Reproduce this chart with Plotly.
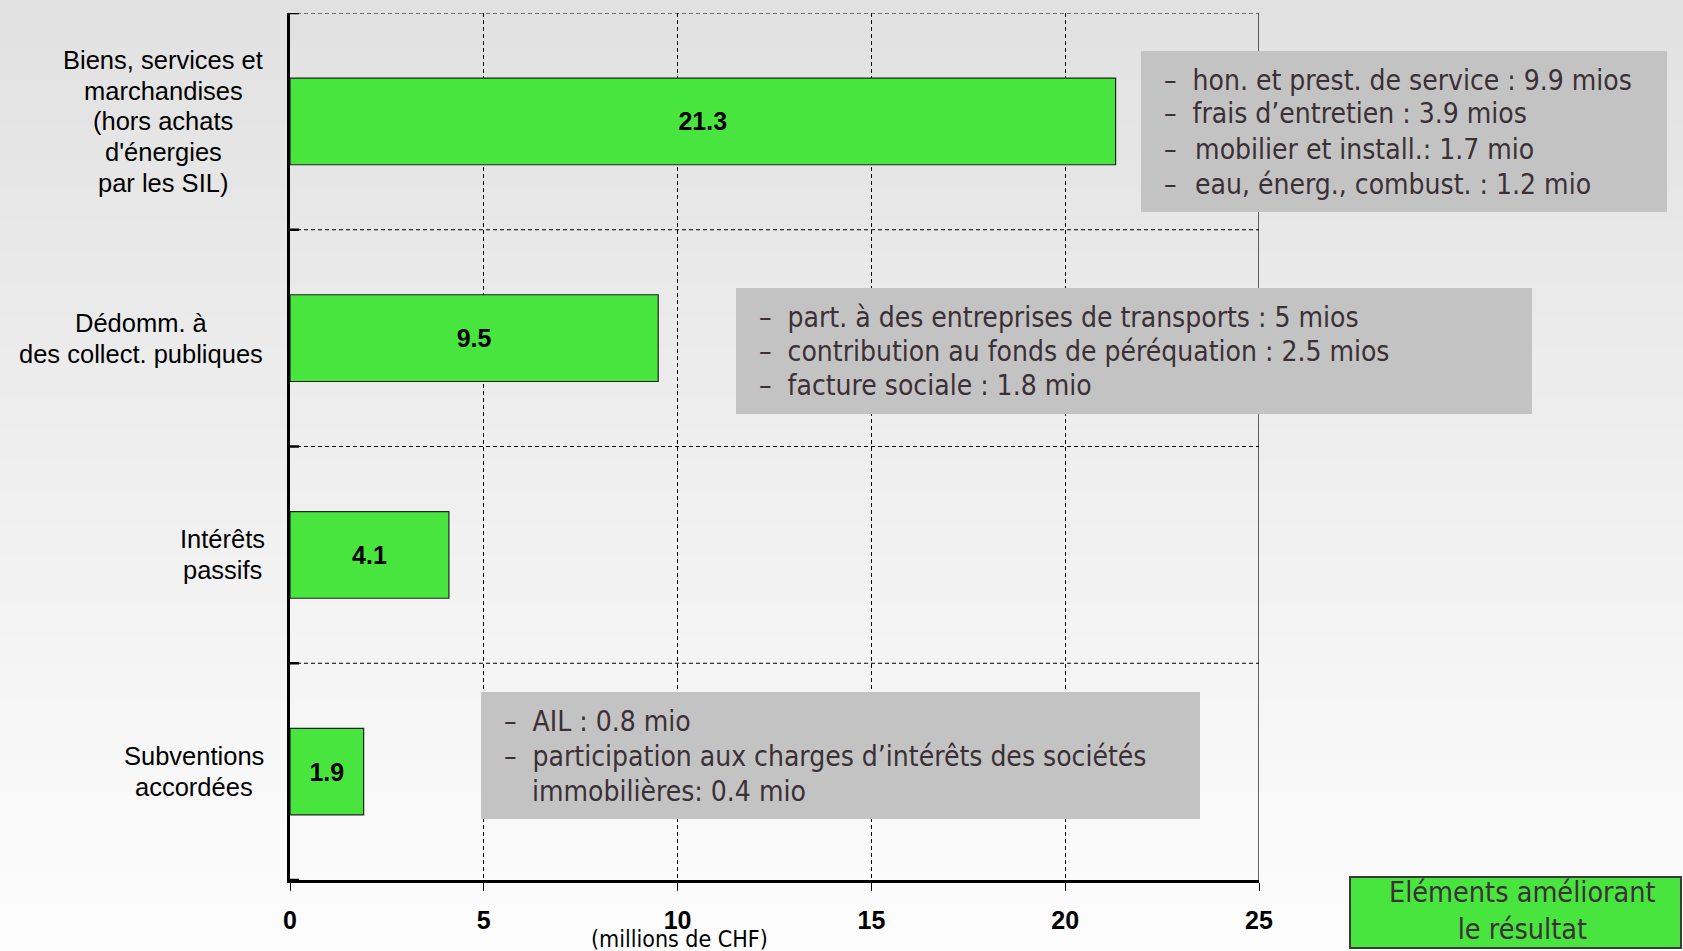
import plotly.graph_objects as go

# ---------------- data ----------------
categories = ["Biens", "Dédomm", "Intérêts", "Subventions"]
category_label_lines = [
    ["Biens, services et", "marchandises", "(hors achats", "d'énergies", "par les SIL)"],
    ["Dédomm. à", "des collect. publiques"],
    ["Intérêts", "passifs"],
    ["Subventions", "accordées"],
]
values = [21.3, 9.5, 4.1, 1.9]
x_ticks = [0, 5, 10, 15, 20, 25]
x_axis_title = "(millions de CHF)"

box1_lines = ["–  hon. et prest. de service : 9.9 mios",
              "–  frais d’entretien : 3.9 mios",
              "–  \u200amobilier et install.: 1.7 mio",
              "–  \u200aeau, énerg., combust. : 1.2 mio"]
box2_lines = ["–  part. à des entreprises de transports : 5 mios",
              "–  contribution au fonds de péréquation : 2.5 mios",
              "–  facture sociale : 1.8 mio"]
box3_lines = ["–  AIL : 0.8 mio",
              "–  participation aux charges d’intérêts des sociétés",
              "immobilières: 0.4 mio"]
legend_text = "Eléments améliorant<br>le résultat"

# ---------------- layout geometry (pixels) ----------------
W, H = 1683, 951
L, R, T, B = 290, 1259, 13, 880


def px(x):
    return (x - L) / (R - L)


def py(y):
    return (B - y) / (B - T)


GREEN = "#48e53f"
BOXGRAY = "#c3c3c3"
TXT = "#3b3036"
NARROW = "Liberation Sans Narrow, DejaVu Sans Condensed, Liberation Sans, Arial"
SANS = "Liberation Sans, Arial, sans-serif"

fig = go.Figure()
fig.add_trace(go.Bar(
    orientation="h",
    x=values,
    y=categories,
    width=0.4,
    marker=dict(color=GREEN, line=dict(color="#222222", width=1.2)),
    text=[f"{v:.1f}" for v in values],
    textposition="inside",
    insidetextanchor="middle",
    textangle=0,
    textfont=dict(family=SANS, size=25, color="black", weight="bold"),
    hoverinfo="skip",
))

shapes = []
# background gradient
N = 60
for i in range(N):
    y0 = i * H / N
    y1 = (i + 1) * H / N
    t = (i + 0.5) / N
    c = int(round(225 + (253 - 225) * t))
    shapes.append(dict(type="rect", xref="paper", yref="paper",
                       x0=px(-2), x1=px(W + 2), y0=py(y1 + 1), y1=py(y0 - (2 if i == 0 else 0)),
                       fillcolor=f"rgb({c},{c},{c})", line=dict(width=0),
                       layer="below"))

# horizontal dashed boundaries
for b in [-0.5, 0.5, 1.5, 2.5]:
    shapes.append(dict(type="line", xref="x", yref="y", x0=0, x1=25, y0=b, y1=b,
                       line=dict(color="black", width=1, dash="4px,3px"), layer="between"))
# right border
shapes.append(dict(type="line", xref="x", yref="y", x0=25, x1=25, y0=-0.5, y1=3.5,
                   line=dict(color="black", width=1.2), layer="between"))
# left axis cross ticks at boundaries
for b in [-0.5, 0.5, 1.5, 2.5, 3.5]:
    shapes.append(dict(type="line", xref="x", yref="y", xsizemode="pixel", xanchor=0,
                       x0=-10, x1=9, y0=b, y1=b,
                       line=dict(color="black", width=2.5), layer="above"))

annotations = []
# grey annotation boxes: (x0, x1, y0, y1, lines, text x per line, text y per line)
boxes = [
    (1141, 1667, 51, 212, box1_lines, [1162, 1162, 1162, 1162], [80, 114, 149, 184]),
    (736, 1532, 288, 414, box2_lines, [757, 757, 757], [317, 351, 386]),
    (481, 1200, 692, 819, box3_lines, [502, 502, 530], [721, 756, 791]),
]
for (x0, x1, y0, y1, lines, txs, tys) in boxes:
    shapes.append(dict(type="rect", xref="paper", yref="paper",
                       x0=px(x0), x1=px(x1), y0=py(y1), y1=py(y0),
                       fillcolor=BOXGRAY, line=dict(width=0), layer="above"))
    for line, tx, ty in zip(lines, txs, tys):
        annotations.append(dict(xref="paper", yref="paper", x=px(tx), y=py(ty),
                                text=line, showarrow=False, xanchor="left", yanchor="middle",
                                font=dict(family=NARROW, size=28, color=TXT)))

# legend box
shapes.append(dict(type="rect", xref="paper", yref="paper",
                   x0=px(1350), x1=px(1681), y0=py(948), y1=py(877),
                   fillcolor=GREEN, line=dict(color="#3a3a3a", width=2), layer="above"))
annotations.append(dict(xref="paper", yref="paper", x=px(1522), y=py(911),
                        text=legend_text, showarrow=False, xanchor="center", yanchor="middle",
                        align="center", font=dict(family=NARROW, size=28.5, color=TXT)))

# category labels (one annotation per line, centred block)
label_centres = [163, 141, 222, 194]
LINE_SP = 30.8
for cat, lines, cx in zip(categories, category_label_lines, label_centres):
    n = len(lines)
    for k, line in enumerate(lines):
        annotations.append(dict(xref="paper", yref="y", x=px(cx), y=cat,
                                yshift=-(k - (n - 1) / 2) * LINE_SP,
                                text=line, showarrow=False, xanchor="center", yanchor="middle",
                                font=dict(family=SANS, size=25.5, color="black")))

# axis title
annotations.append(dict(xref="paper", yref="paper", x=px(679), y=py(939),
                        text=x_axis_title, showarrow=False, xanchor="center", yanchor="middle",
                        font=dict(family=NARROW, size=23, color="black")))

fig.update_layout(
    width=W, height=H,
    margin=dict(l=L, r=W - R, t=T, b=H - B, pad=0),
    paper_bgcolor="white",
    plot_bgcolor="rgba(0,0,0,0)",
    showlegend=False,
    bargap=0.6,
    shapes=shapes,
    annotations=annotations,
    xaxis=dict(range=[0, 25], tickvals=x_ticks, ticktext=[str(v) for v in x_ticks],
               showgrid=True, gridcolor="black", gridwidth=1, griddash="4px,3px",
               zeroline=False, showline=True, linecolor="black", linewidth=3,
               ticks="outside", ticklen=8, tickwidth=1, tickcolor="black",
               ticklabelstandoff=8,
               tickfont=dict(family=SANS, size=25, color="black", weight="bold")),
    yaxis=dict(type="category", categoryorder="array", categoryarray=categories,
               range=[3.5, -0.5], showgrid=False, zeroline=False,
               showline=True, linecolor="black", linewidth=3,
               showticklabels=False, ticks=""),
)

fig.write_html("out.html",
               config={"displayModeBar": False},
               post_script="document.body.style.margin='0';document.body.style.padding='0';"
                           "document.body.style.overflow='hidden';")
